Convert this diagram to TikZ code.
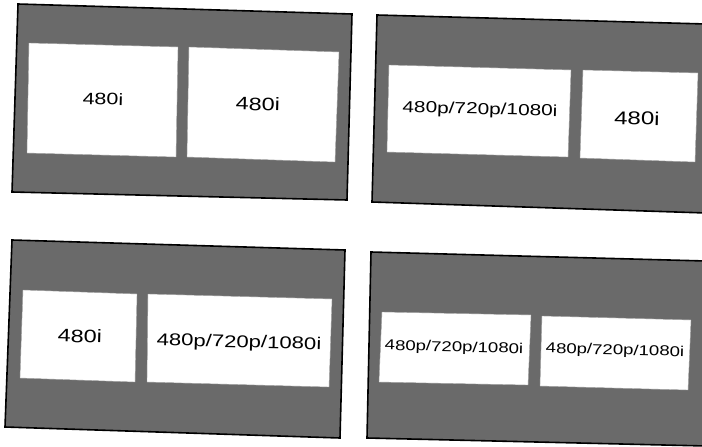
\documentclass[tikz,border=0pt]{standalone}
\usepackage{fontspec}
\setmainfont{Liberation Sans}
\definecolor{scr}{HTML}{6A6A6A}
\newcommand{\wtxt}[2]{\scalebox{1.3}[1]{\fontsize{#1}{#1}\selectfont #2}}
\begin{document}
\begin{tikzpicture}[x=1pt,y=-1pt,
  screen/.style={fill=scr,draw=black,line width=1.6pt,line join=miter},
  pane/.style={fill=white,draw=black!35,line width=0.4pt},
  lbl/.style={inner sep=0pt,rotate=-1.5,text=black}]
\useasboundingbox (0,0) rectangle (702,447);
\clip (0,0) rectangle (702,447);
% screen 1
\draw[screen] (18,4) -- (352,14) -- (347,200) -- (12,192) -- cycle;
\draw[pane] (29,43) -- (178,47) -- (176,157) -- (27,153) -- cycle;
\draw[pane] (189,47) -- (339,52) -- (335,162) -- (187,157) -- cycle;
\node[lbl] (a1) at (103,99) {\wtxt{16.5}{480i}};
\node[lbl] (a2) at (258,104) {\wtxt{18}{480i}};
% screen 2
\draw[screen] (377,15) -- (706,24) -- (706,213) -- (372,202) -- cycle;
\draw[pane] (389,65) -- (571,70) -- (568,157) -- (387,152) -- cycle;
\draw[pane] (583,70) -- (698,73) -- (695,162) -- (580,158) -- cycle;
\node[lbl] (b1) at (480,110) {\wtxt{16}{480p/720p/1080i}};
\node[lbl] (b2) at (637,118) {\wtxt{18.5}{480i}};
% screen 3
\draw[screen] (12,240) -- (345,250) -- (340,438) -- (5,427) -- cycle;
\draw[pane] (23,290) -- (137,294) -- (135,382) -- (20,378) -- cycle;
\draw[pane] (148,294) -- (332,299) -- (329,387) -- (147,382) -- cycle;
\node[lbl] (c1) at (80,336) {\wtxt{18}{480i}};
\node[lbl] (c2) at (239,343) {\wtxt{17}{480p/720p/1080i}};
% screen 4
\draw[screen] (371,252) -- (706,261) -- (706,446) -- (367,438) -- cycle;
\draw[pane] (382,312) -- (531,315) -- (528,385) -- (379,382) -- cycle;
\draw[pane] (542,316) -- (691,320) -- (688,390) -- (540,386) -- cycle;
\node[lbl] (d1) at (454,348) {\wtxt{14.3}{480p/720p/1080i}};
\node[lbl] (d2) at (615,351) {\wtxt{14.3}{480p/720p/1080i}};
\end{tikzpicture}
\end{document}
